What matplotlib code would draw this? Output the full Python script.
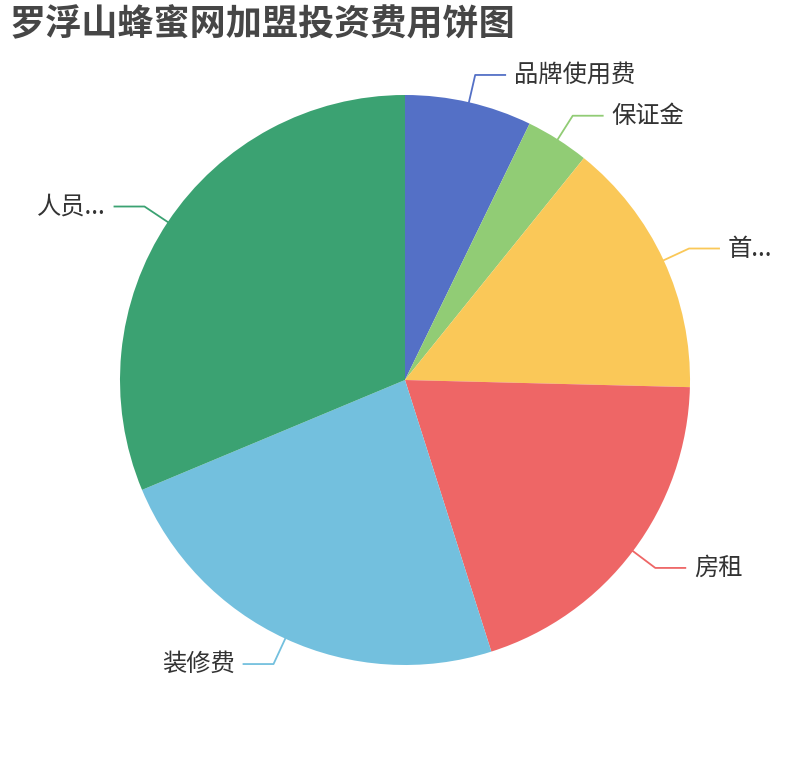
import numpy as np
import matplotlib.pyplot as plt

plt.rcParams['font.family'] = ['Noto Sans CJK SC', 'DejaVu Sans']

# 데이터 (그림에서 읽은 비율, %)
labels = ['品牌使用费', '保证金', '首...', '房租', '装修费', '人员...']
values = [7.2, 3.6, 14.6, 19.7, 23.6, 31.3]
colors = ['#5470c6', '#91cc75', '#fac858', '#ee6666', '#73c0de', '#3ba272']

W, H = 810, 760
cx, cy, R = 405, 380, 285

fig = plt.figure(figsize=(W / 100, H / 100), dpi=100)
ax = fig.add_axes([0, 0, 1, 1])
ax.set_xlim(0, W)
ax.set_ylim(0, H)
ax.set_aspect('equal')
ax.axis('off')

wedges, _ = ax.pie(values, colors=colors, startangle=90, counterclock=False,
                   center=(cx, H - cy), radius=R,
                   wedgeprops={'linewidth': 0})
ax.set_xlim(0, W)
ax.set_ylim(0, H)

# 라벨 + 안내선
for w, lab, col in zip(wedges, labels, colors):
    ang = np.deg2rad((w.theta1 + w.theta2) / 2)
    x0, y0 = cx + R * np.cos(ang), H - cy + R * np.sin(ang)
    x1, y1 = cx + (R + 28) * np.cos(ang), H - cy + (R + 28) * np.sin(ang)
    side = 1 if np.cos(ang) >= 0 else -1
    x2 = x1 + side * 30
    ax.plot([x0, x1, x2], [y0, y1, y1], color=col, lw=1.3)
    ax.text(x2 + side * 9, y1, lab, ha='left' if side > 0 else 'right',
            va='center', fontsize=17.5, color='#333333')

fig.text(10 / W, 1 - 25 / H, '罗浮山蜂蜜网加盟投资费用饼图', fontsize=26,
         fontweight='bold', color='#464646', va='center', ha='left')

fig.savefig('out.png', dpi=100)
